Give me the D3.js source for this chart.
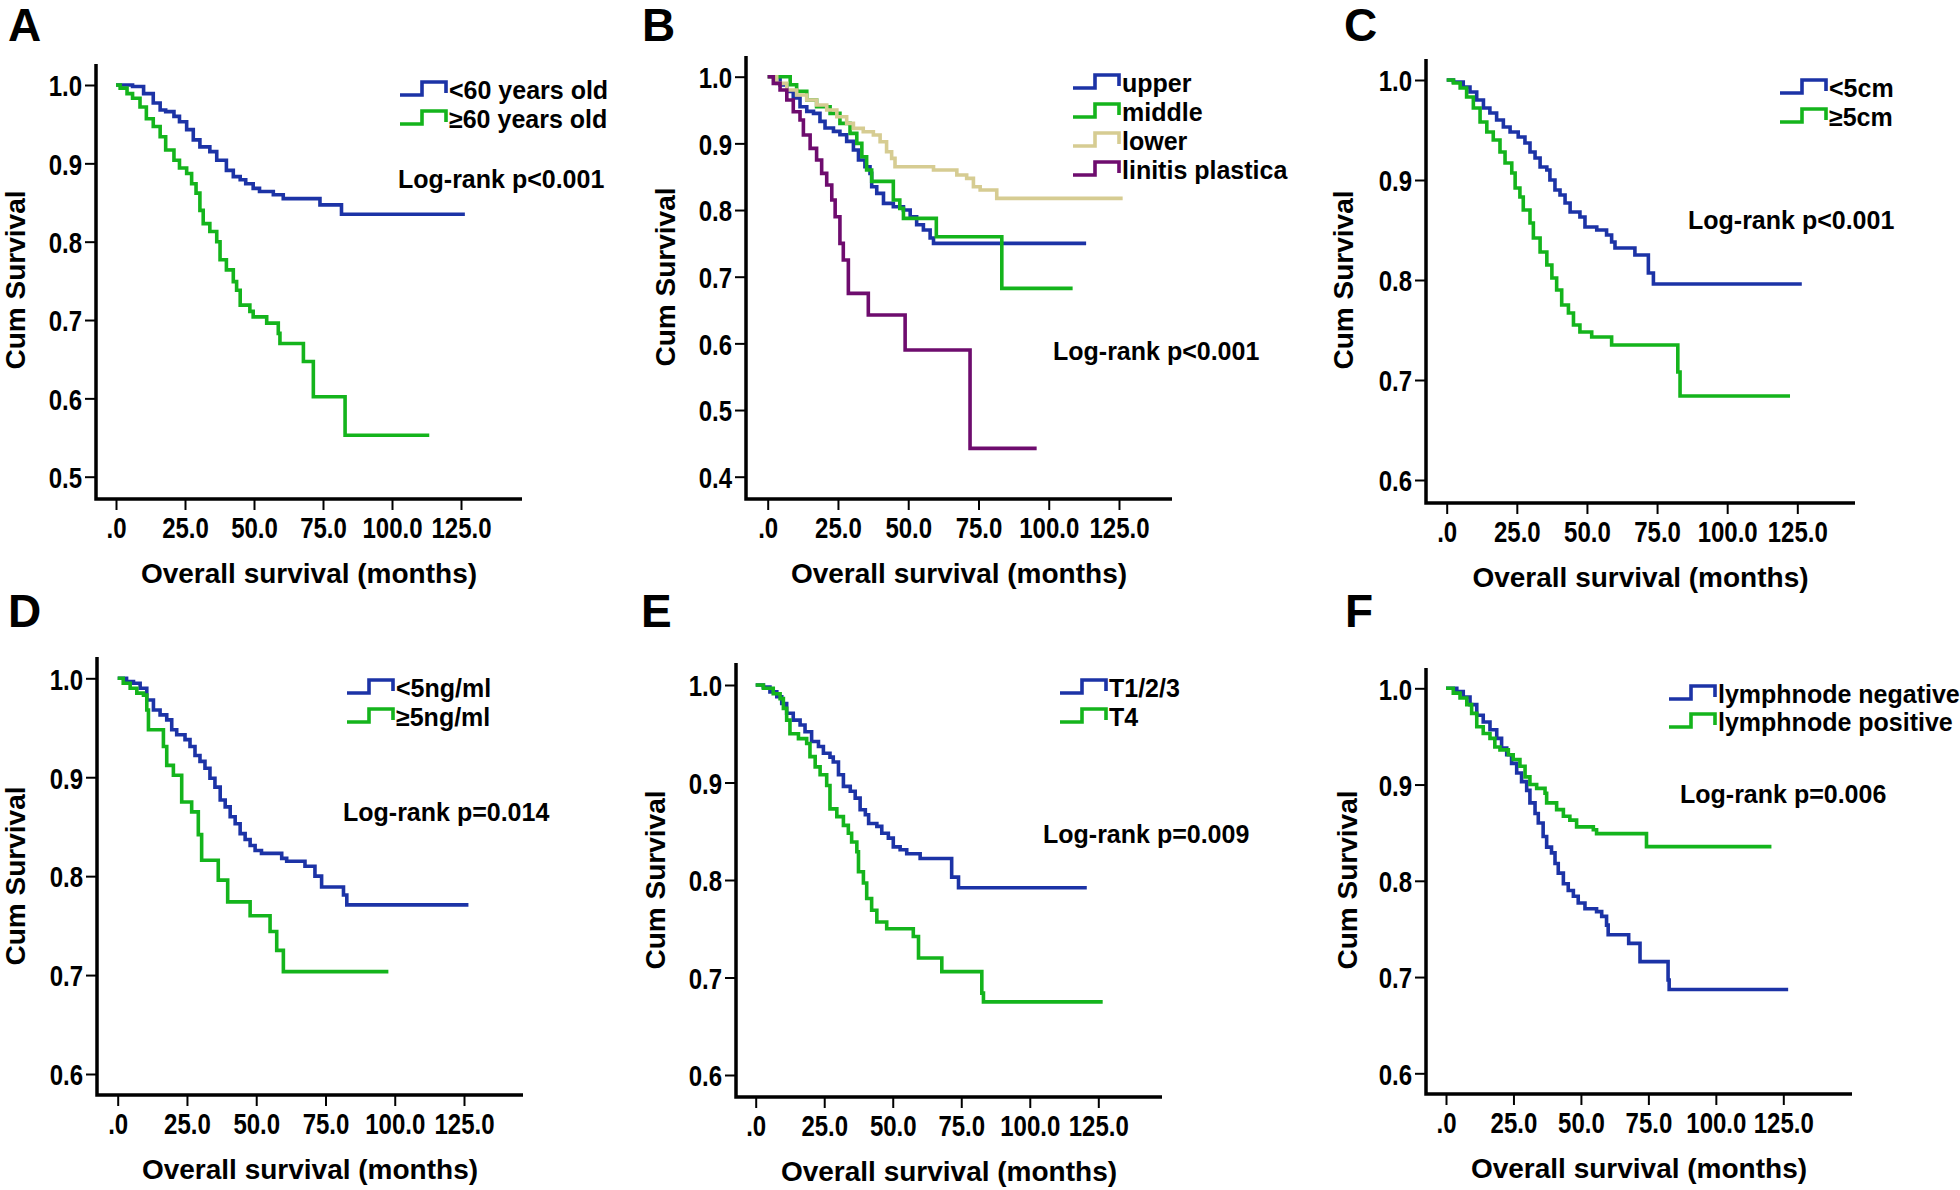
<!DOCTYPE html>
<html><head><meta charset="utf-8">
<script src="https://cdn.jsdelivr.net/npm/d3@7"></script>
<style>
html,body{margin:0;padding:0;background:#fff;}
svg{display:block;background:#fff;}
</style></head><body>
<svg id="chart" width="1960" height="1190"></svg>
<script>
// ---------------- DATA ----------------
// Each series: [months, cumulative survival after the drop]
const xTickValues = [0, 25, 50, 75, 100, 125];
const yTicksA = [0.5, 0.6, 0.7, 0.8, 0.9, 1.0];
const yTicksB = [0.4, 0.5, 0.6, 0.7, 0.8, 0.9, 1.0];
const yTicksCDEF = [0.6, 0.7, 0.8, 0.9, 1.0];

const panelLetters = ["A", "B", "C", "D", "E", "F"];
const logRankTexts = ["Log-rank p<0.001", "Log-rank p<0.001", "Log-rank p<0.001",
                      "Log-rank p=0.014", "Log-rank p=0.009", "Log-rank p=0.006"];
const yAxisTitle = "Cum Survival";
const xAxisTitle = "Overall survival (months)";

// A: age
const legendA = ["<60 years old", "\u226560 years old"];
const a_lt60 = [[0,1],[6,0.998],[10,0.989],[13.5,0.977],[16,0.968],[18,0.966],[21,0.96],[23,0.953],[25.6,0.943],[28,0.93],[30.4,0.921],[34,0.915],[36.5,0.904],[40,0.891],[42.5,0.883],[45,0.879],[47,0.874],[49.7,0.868],[52,0.864],[57,0.86],[60.6,0.855],[73.9,0.847],[81.7,0.835]];
const a_ge60 = [[0,1],[1.5,0.996],[4,0.989],[6,0.983],[8.7,0.972],[11,0.957],[13.5,0.947],[16,0.934],[18,0.917],[21,0.904],[23,0.894],[25.6,0.887],[27.4,0.874],[29,0.862],[30.4,0.84],[31.6,0.823],[34,0.813],[36.5,0.8],[37.7,0.777],[40,0.764],[42.5,0.749],[43.7,0.738],[45,0.719],[48.5,0.711],[49.7,0.704],[54.6,0.696],[58.8,0.683],[59.4,0.67],[67.9,0.647],[71.5,0.602],[83,0.553]];
const a_end = [126.4, 113.5];

// B: location
const legendB = ["upper", "middle", "lower", "linitis plastica"];
const b_upper = [[0,1],[4.4,0.9875],[6.8,0.978],[9.1,0.968],[11.5,0.955],[13.9,0.948],[16.3,0.945],[18.6,0.933],[20.4,0.923],[23.4,0.918],[25.7,0.913],[28.1,0.903],[30.5,0.89],[32.3,0.875],[34.6,0.865],[36.4,0.855],[37,0.835],[38.8,0.825],[41.2,0.81],[44.7,0.805],[48.3,0.8],[50.7,0.79],[53,0.778],[55.4,0.77],[57.8,0.758],[59,0.75]];
const b_middle = [[0,1],[8,0.988],[10.3,0.978],[13.9,0.965],[17.4,0.955],[22.2,0.945],[25.7,0.93],[29.3,0.915],[31.7,0.9],[33.5,0.88],[35.2,0.86],[37,0.843],[44.7,0.815],[47,0.8025],[48.3,0.7875],[60,0.76],[83.3,0.6825]];
const b_lower = [[0,1],[3.2,0.99],[6.8,0.98],[10.3,0.9725],[13.9,0.965],[17.4,0.9575],[21,0.95],[24.6,0.94],[28.1,0.93],[30.5,0.9225],[34,0.9175],[37.6,0.9125],[40,0.9025],[42.3,0.8875],[44.1,0.8775],[45.3,0.865],[59,0.86],[67.3,0.8525],[70.8,0.8475],[73.2,0.835],[75.6,0.83],[81.5,0.8175]];
const b_linitis = [[0,1],[2,0.99],[4.4,0.98],[6.8,0.965],[9.1,0.9475],[11.5,0.935],[12.7,0.9125],[15.1,0.8925],[17.4,0.875],[19.2,0.855],[21,0.8375],[22.8,0.815],[24,0.79],[25.7,0.75],[26.9,0.725],[28.7,0.675],[35.8,0.6425],[48.9,0.59],[72,0.4425]];
const b_end = [113.3, 108.5, 126.3, 95.7];

// C: tumour size
const legendC = ["<5cm", "\u22655cm"];
const c_lt5 = [[0,1],[2.4,0.998],[5.9,0.993],[8.3,0.988],[10.7,0.98],[13.1,0.972],[15.4,0.967],[17.8,0.96],[20.2,0.953],[22.6,0.948],[25.5,0.943],[27.9,0.937],[29.7,0.928],[31.5,0.922],[33.3,0.913],[35.7,0.91],[36.8,0.9],[38.6,0.89],[40.4,0.885],[42.2,0.877],[44,0.868],[47.5,0.863],[49.3,0.853],[53.5,0.85],[57,0.845],[58.8,0.838],[60,0.832],[67.1,0.825],[71.9,0.807],[73.7,0.796]];
const c_ge5 = [[0,1],[2.4,0.997],[4.8,0.992],[7.1,0.983],[9.5,0.972],[11.9,0.958],[14.3,0.948],[16.6,0.94],[19,0.928],[20.8,0.917],[23.2,0.907],[24.4,0.892],[26.1,0.883],[27.3,0.87],[29.7,0.857],[30.9,0.842],[33.3,0.828],[35.7,0.815],[37.5,0.802],[39.2,0.79],[41,0.775],[43.4,0.767],[45.2,0.755],[47.5,0.748],[51.7,0.743],[58.8,0.735],[82.4,0.708],[83.2,0.684]];
const c_end = [126.6, 122.4];

// D: CEA
const legendD = ["<5ng/ml", "\u22655ng/ml"];
const d_lt5 = [[0,1],[3.2,0.9966],[5.7,0.995],[8.1,0.99],[10.5,0.978],[12.9,0.968],[15.3,0.963],[17.7,0.958],[19.5,0.948],[21.3,0.943],[24.3,0.938],[26.1,0.931],[27.9,0.922],[29.7,0.916],[31.5,0.909],[33.3,0.899],[35.1,0.89],[37,0.877],[38.8,0.87],[40.6,0.86],[42.4,0.853],[44.2,0.843],[46,0.837],[47.8,0.831],[49.6,0.826],[51.9,0.823],[59.2,0.818],[61,0.815],[67.6,0.81],[71.2,0.8],[73.6,0.789],[81.5,0.781],[82.7,0.771]];
const d_ge5 = [[0,1],[2,0.995],[4.5,0.99],[6.9,0.985],[9.3,0.983],[10.5,0.968],[11.1,0.948],[16.5,0.931],[17.7,0.912],[20.1,0.902],[23.1,0.875],[26.7,0.865],[29.1,0.842],[30.3,0.816],[36.3,0.796],[39.7,0.774],[47.8,0.76],[55,0.744],[57.4,0.725],[59.8,0.7035]];
const d_end = [126.6, 97.7];

// E: T stage
const legendE = ["T1/2/3", "T4"];
const e_t123 = [[0,1],[2.8,0.998],[5.2,0.993],[7.7,0.988],[9.5,0.981],[11.3,0.971],[13.7,0.964],[16.2,0.959],[18,0.952],[20.4,0.942],[22.9,0.937],[24.7,0.93],[27.1,0.926],[28.3,0.921],[30.2,0.908],[32,0.896],[34.5,0.891],[36.3,0.884],[38.1,0.872],[40,0.867],[41.2,0.858],[44.2,0.855],[46,0.848],[48.4,0.843],[50.2,0.834],[52.7,0.831],[55.1,0.827],[60,0.822],[71.5,0.803],[74,0.792]];
const e_t4 = [[0,1],[2.8,0.9966],[6.4,0.991],[8.9,0.986],[10.1,0.976],[11.3,0.964],[12.5,0.95],[15.6,0.945],[18.6,0.94],[19.8,0.9265],[21.7,0.916],[23.5,0.908],[25.9,0.897],[27.1,0.873],[29.6,0.865],[32,0.856],[33.8,0.848],[35,0.839],[36.9,0.829],[37.5,0.8085],[39.3,0.797],[40.5,0.781],[42.3,0.769],[44.2,0.757],[47.8,0.75],[57.5,0.742],[59.4,0.72],[67.9,0.706],[82.5,0.684],[83.1,0.675]];
const e_end = [120.8, 126.6];

// F: lymph node
const legendF = ["lymphnode negative", "lymphnode positive"];
const f_neg = [[0,1],[4,0.9965],[6.4,0.991],[8.9,0.983],[11.4,0.972],[13.8,0.965],[16.3,0.957],[18.8,0.948],[20.6,0.938],[22.5,0.931],[24.3,0.922],[26.2,0.912],[28,0.903],[29.9,0.894],[31.1,0.881],[33,0.87],[34.2,0.86],[36,0.846],[37.3,0.835],[39.1,0.829],[40.4,0.818],[41.6,0.808],[43.5,0.797],[45.3,0.79],[47.2,0.784],[49,0.777],[51.5,0.771],[55.8,0.768],[57.7,0.763],[59.5,0.754],[60.1,0.744],[67.7,0.735],[71.9,0.716],[82.3,0.697],[82.7,0.687]];
const f_pos = [[0,1],[2.7,0.995],[5.2,0.99],[7.7,0.983],[9.5,0.974],[11.4,0.96],[13.8,0.953],[16.3,0.948],[18.1,0.939],[20,0.936],[23.1,0.931],[24.9,0.926],[27.4,0.919],[29.3,0.908],[31.1,0.9],[33.6,0.896],[36.7,0.891],[37.3,0.881],[41,0.874],[43.5,0.867],[45.9,0.863],[48.4,0.856],[54.6,0.853],[55.8,0.849],[74.3,0.8355]];
const f_end = [126.8, 120.6];

// ---------------- STYLE / LAYOUT ----------------
const BLUE = "#1c33a6", GREEN = "#14b41c", TAN = "#d6cc92", PURPLE = "#6e0c6e";
const FONT = "'Liberation Sans', Arial, Helvetica, sans-serif";
const TICK_SIZE = 30, TICK_SQUEEZE = 0.8;

const panels = [
  { letter: panelLetters[0], lx: 8, ly: 41, axisX: 96, top: 64, bottom: 499, right: 522,
    x0: 116, x125: 461, yLo: 0.5, yLoPx: 476.7, y1Px: 85, yTicks: yTicksA,
    series: [{d: a_lt60, end: a_end[0], c: BLUE}, {d: a_ge60, end: a_end[1], c: GREEN}],
    legend: legendA, legX: 400, legY: 99, legDy: 29,
    lr: logRankTexts[0], lrX: 398, lrY: 188, ylabX: 25, ylabY: 280 },
  { letter: panelLetters[1], lx: 642, ly: 41, axisX: 746, top: 56, bottom: 499, right: 1172,
    x0: 767.7, x125: 1119, yLo: 0.4, yLoPx: 476.7, y1Px: 76.7, yTicks: yTicksB,
    series: [{d: b_upper, end: b_end[0], c: BLUE}, {d: b_middle, end: b_end[1], c: GREEN},
             {d: b_lower, end: b_end[2], c: TAN}, {d: b_linitis, end: b_end[3], c: PURPLE}],
    legend: legendB, legX: 1073, legY: 92, legDy: 29,
    lr: logRankTexts[1], lrX: 1053, lrY: 360, ylabX: 675, ylabY: 277 },
  { letter: panelLetters[2], lx: 1344, ly: 41, axisX: 1426, top: 59, bottom: 503, right: 1855,
    x0: 1446.7, x125: 1797.3, yLo: 0.6, yLoPx: 480, y1Px: 80, yTicks: yTicksCDEF,
    series: [{d: c_lt5, end: c_end[0], c: BLUE}, {d: c_ge5, end: c_end[1], c: GREEN}],
    legend: legendC, legX: 1780, legY: 97, legDy: 29,
    lr: logRankTexts[2], lrX: 1688, lrY: 229, ylabX: 1353, ylabY: 280 },
  { letter: panelLetters[3], lx: 8, ly: 627, axisX: 97, top: 657, bottom: 1095, right: 523,
    x0: 117.7, x125: 464, yLo: 0.6, yLoPx: 1074, y1Px: 678.3, yTicks: yTicksCDEF,
    series: [{d: d_lt5, end: d_end[0], c: BLUE}, {d: d_ge5, end: d_end[1], c: GREEN}],
    legend: legendD, legX: 347, legY: 697, legDy: 29,
    lr: logRankTexts[3], lrX: 343, lrY: 821, ylabX: 25, ylabY: 876 },
  { letter: panelLetters[4], lx: 641, ly: 627, axisX: 736, top: 663, bottom: 1097, right: 1162,
    x0: 755.7, x125: 1098.3, yLo: 0.6, yLoPx: 1075, y1Px: 685, yTicks: yTicksCDEF,
    series: [{d: e_t123, end: e_end[0], c: BLUE}, {d: e_t4, end: e_end[1], c: GREEN}],
    legend: legendE, legX: 1060, legY: 697, legDy: 29,
    lr: logRankTexts[4], lrX: 1043, lrY: 843, ylabX: 665, ylabY: 880 },
  { letter: panelLetters[5], lx: 1345, ly: 627, axisX: 1426, top: 668, bottom: 1094, right: 1852,
    x0: 1446, x125: 1783.3, yLo: 0.6, yLoPx: 1073.3, y1Px: 688.3, yTicks: yTicksCDEF,
    series: [{d: f_neg, end: f_end[0], c: BLUE}, {d: f_pos, end: f_end[1], c: GREEN}],
    legend: legendF, legX: 1669, legY: 703, legDy: 28,
    lr: logRankTexts[5], lrX: 1680, lrY: 803, ylabX: 1357, ylabY: 880 }
];

const svg = d3.select("#chart");
svg.append("rect").attr("width", 1960).attr("height", 1190).attr("fill", "#fff");

const xFmt = d => d === 0 ? ".0" : d3.format(".1f")(d);
const yFmt = d3.format(".1f");

panels.forEach(p => {
  const g = svg.append("g");
  const x = d3.scaleLinear().domain([0, 125]).range([p.x0, p.x125]);
  const y = d3.scaleLinear().domain([p.yLo, 1.0]).range([p.yLoPx, p.y1Px]);

  // panel letter
  g.append("text").attr("x", p.lx).attr("y", p.ly).text(p.letter)
    .attr("font-family", FONT).attr("font-weight", "bold").attr("font-size", 46).attr("fill", "#000");

  // curves
  const line = d3.line().x(d => x(d[0])).y(d => y(d[1])).curve(d3.curveStepAfter);
  p.series.forEach(s => {
    const pts = s.d.concat([[s.end, s.d[s.d.length - 1][1]]]);
    g.append("path").attr("d", line(pts)).attr("fill", "none")
      .attr("stroke", s.c).attr("stroke-width", 3.6);
  });

  // y axis
  const yAxis = d3.axisLeft(y).tickValues(p.yTicks).tickFormat(yFmt).tickSize(11).tickPadding(3);
  const ya = g.append("g").attr("transform", `translate(${p.axisX},0)`).call(yAxis);
  ya.select(".domain").remove();
  ya.selectAll(".tick line").attr("stroke", "#000").attr("stroke-width", 2);
  ya.selectAll(".tick text").attr("font-family", FONT).attr("font-weight", "bold")
    .attr("font-size", TICK_SIZE).attr("fill", "#000").attr("dy", "0.36em")
    .attr("x", -14 / TICK_SQUEEZE).attr("transform", `scale(${TICK_SQUEEZE},1)`);

  // x axis
  const xAxis = d3.axisBottom(x).tickValues(xTickValues).tickFormat(xFmt).tickSize(11).tickPadding(7);
  const xa = g.append("g").attr("transform", `translate(0,${p.bottom})`).call(xAxis);
  xa.select(".domain").remove();
  xa.selectAll(".tick line").attr("stroke", "#000").attr("stroke-width", 2);
  xa.selectAll(".tick text").attr("font-family", FONT).attr("font-weight", "bold")
    .attr("font-size", TICK_SIZE).attr("fill", "#000")
    .attr("transform", `scale(${TICK_SQUEEZE},1)`);

  // axis spines
  g.append("path").attr("d", `M${p.axisX},${p.top}V${p.bottom}H${p.right}`)
    .attr("fill", "none").attr("stroke", "#000").attr("stroke-width", 3.5);

  // axis titles
  g.append("text").attr("x", (p.axisX + p.right) / 2).attr("y", p.bottom + 84)
    .attr("text-anchor", "middle").text(xAxisTitle)
    .attr("font-family", FONT).attr("font-weight", "bold").attr("font-size", 28).attr("fill", "#000");
  g.append("text").attr("transform", `translate(${p.ylabX},${p.ylabY}) rotate(-90)`)
    .attr("text-anchor", "middle").text(yAxisTitle)
    .attr("font-family", FONT).attr("font-weight", "bold").attr("font-size", 28).attr("fill", "#000");

  // legend
  p.legend.forEach((name, i) => {
    const by = p.legY + i * p.legDy;
    const yb = by - 4, yt = by - 17, x0 = p.legX;
    g.append("path").attr("d", `M${x0},${yb}H${x0 + 22}V${yt}H${x0 + 46}V${yb - 2}`)
      .attr("fill", "none").attr("stroke", p.series[i].c).attr("stroke-width", 3.6);
    g.append("text").attr("x", x0 + 49).attr("y", by).text(name)
      .attr("font-family", FONT).attr("font-weight", "bold").attr("font-size", 25).attr("fill", "#000");
  });

  // log-rank annotation
  g.append("text").attr("x", p.lrX).attr("y", p.lrY).text(p.lr)
    .attr("font-family", FONT).attr("font-weight", "bold").attr("font-size", 25).attr("fill", "#000");
});
</script>
</body></html>
